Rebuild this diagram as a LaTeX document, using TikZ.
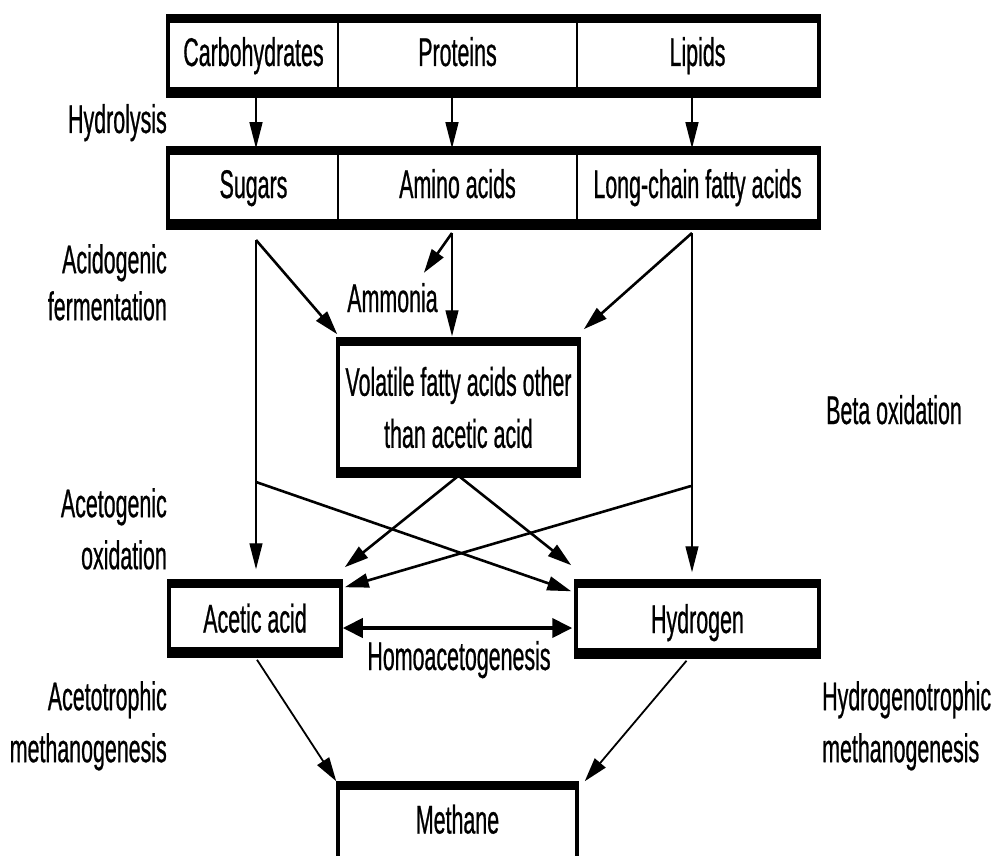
\documentclass[tikz,border=0pt]{standalone}
\usepackage{fontspec}
\setmainfont{Liberation Sans}[FakeStretch=0.535,FakeBold=0.6]
\usetikzlibrary{arrows.meta,calc}
\tikzset{
  cell/.style={draw, line width=1.5pt, inner sep=0pt, text height=28pt, text depth=8pt},
  lbl/.style={inner sep=0pt},
  thinarr/.style={line width=1.3pt, -{Triangle[length=26pt,width=13pt]}},
  diagarr/.style={line width=2.6pt, -{Triangle[length=24pt,width=14pt]}},
  dblarr/.style={line width=4pt, {Triangle[length=20pt,width=19pt]}-{Triangle[length=20pt,width=19pt]}},
}
\newcommand\myframe[2]{%
  \draw[line width=4pt] (#1.north west) rectangle (#2.south east);
  \fill ([shift={(-2pt,2pt)}]#1.north west) rectangle ([shift={(2pt,-7pt)}]#2.north east);
  \fill ([shift={(-2pt,9pt)}]#1.south west) rectangle ([shift={(2pt,-2pt)}]#2.south east);
}
\begin{document}
\begin{tikzpicture}[x=1pt,y=1pt,font=\fontsize{40}{52}\selectfont]
\useasboundingbox (0,0) rectangle (996,-856);
\clip (0,0) rectangle (996,-856);
% top row
\node[cell, minimum width=169pt, minimum height=78pt] (carb) at (253.5,-56) {Carbohydrates};
\node[cell, minimum width=239pt, minimum height=78pt] (prot) at (457.5,-56) {Proteins};
\node[cell, minimum width=241pt, minimum height=78pt] (lip) at (697.5,-56) {Lipids};
\myframe{carb}{lip}
% second row
\node[cell, minimum width=169pt, minimum height=78pt] (sug) at (253.5,-188) {Sugars};
\node[cell, minimum width=239pt, minimum height=78pt] (amino) at (457.5,-188) {Amino acids};
\node[cell, minimum width=241pt, minimum height=78pt] (lcfa) at (697.5,-188) {Long-chain fatty acids};
\myframe{sug}{lcfa}
% VFA
\node[cell, minimum width=239pt, minimum height=135pt, align=center, text height=, text depth=] (vfa) at (458.5,-407.5) {Volatile fatty acids other\\than acetic acid};
\myframe{vfa}{vfa}
% acetic, hydrogen
\node[cell, minimum width=170pt, minimum height=73pt, text height=36pt] (acetic) at (255,-618.5) {Acetic acid};
\myframe{acetic}{acetic}
\node[cell, minimum width=241pt, minimum height=74pt, text height=36pt] (hydro) at (697.5,-619) {Hydrogen};
\myframe{hydro}{hydro}
% methane
\node[cell, minimum width=237pt, minimum height=86pt, text depth=15pt] (methane) at (457.5,-827) {Methane};
\myframe{methane}{methane}

% labels
\node[lbl, anchor=base east] (hyd) at (167,-133) {Hydrolysis};
\node[lbl, anchor=north east, align=right] (acido) at (167,-244) {Acidogenic\\[-5pt]fermentation};
\node[lbl, anchor=north east, align=right] (aceto) at (167,-488) {Acetogenic\\oxidation};
\node[lbl, anchor=north east, align=right] (acetotr) at (167,-681) {Acetotrophic\\methanogenesis};
\node[lbl, anchor=base west] (beta) at (826,-424) {Beta oxidation};
\node[lbl, anchor=north west, align=left] (hydrotr) at (822,-681) {Hydrogenotrophic\\methanogenesis};
\node[lbl, anchor=base] (ammonia) at (392.5,-312) {Ammonia};
\node[lbl, anchor=base] (homo) at (459,-670) {Homoacetogenesis};

% branch coordinates
\coordinate (sugO) at (256,-240);
\coordinate (amiO) at (452,-233);
\coordinate (lcfO) at (692,-233);
\coordinate (sugX) at (256,-482);
\coordinate (lcfX) at (691,-486);

% hydrolysis arrows
\draw[thinarr] (carb.south -| sugO) -- (sug.north -| sugO);
\draw[thinarr] (prot.south -| amiO) -- (amino.north -| amiO);
\draw[thinarr] (lip.south -| lcfO) -- (lcfa.north -| lcfO);

% acidogenic
\draw[diagarr] (sugO) -- ([shift={(-1pt,5pt)}]vfa.north west);
\draw[thinarr, shorten >=3pt] (amiO) -- (amiO |- vfa.north);
\draw[diagarr] (amiO) -- ([shift={(-14pt,10pt)}]ammonia.north east);
\draw[diagarr] (lcfO) -- ([shift={(5pt,10pt)}]vfa.north east);
\draw[thinarr, shorten >=12pt] (sugO) -- (sugO |- acetic.north);
\draw[thinarr, shorten >=9pt] (lcfO) -- (lcfO |- hydro.north);

% acetogenic
\draw[diagarr] (vfa.south) -- ([shift={(4pt,14pt)}]acetic.north east);
\draw[diagarr] (vfa.south) -- ([shift={(-5pt,16pt)}]hydro.north west);
\draw[diagarr] (sugX) -- ([shift={(-5pt,-10pt)}]hydro.north west);
\draw[diagarr] (lcfX) -- ([shift={(4pt,-6pt)}]acetic.north east);

% homoacetogenesis
\coordinate (homL) at ([shift={(2pt,-9.5pt)}]acetic.east);
\coordinate (homR) at ([shift={(-4pt,-9pt)}]hydro.west);
\draw[dblarr] (homL) -- (homR);

% methanogenesis
\draw[diagarr, line width=1.8pt] ([shift={(2pt,-4pt)}]acetic.south) -- ([shift={(-2pt,2pt)}]methane.north west);
\draw[diagarr, line width=1.8pt] ([shift={(-11pt,-4pt)}]hydro.south) -- ([shift={(8pt,2pt)}]methane.north east);
\end{tikzpicture}
\end{document}
